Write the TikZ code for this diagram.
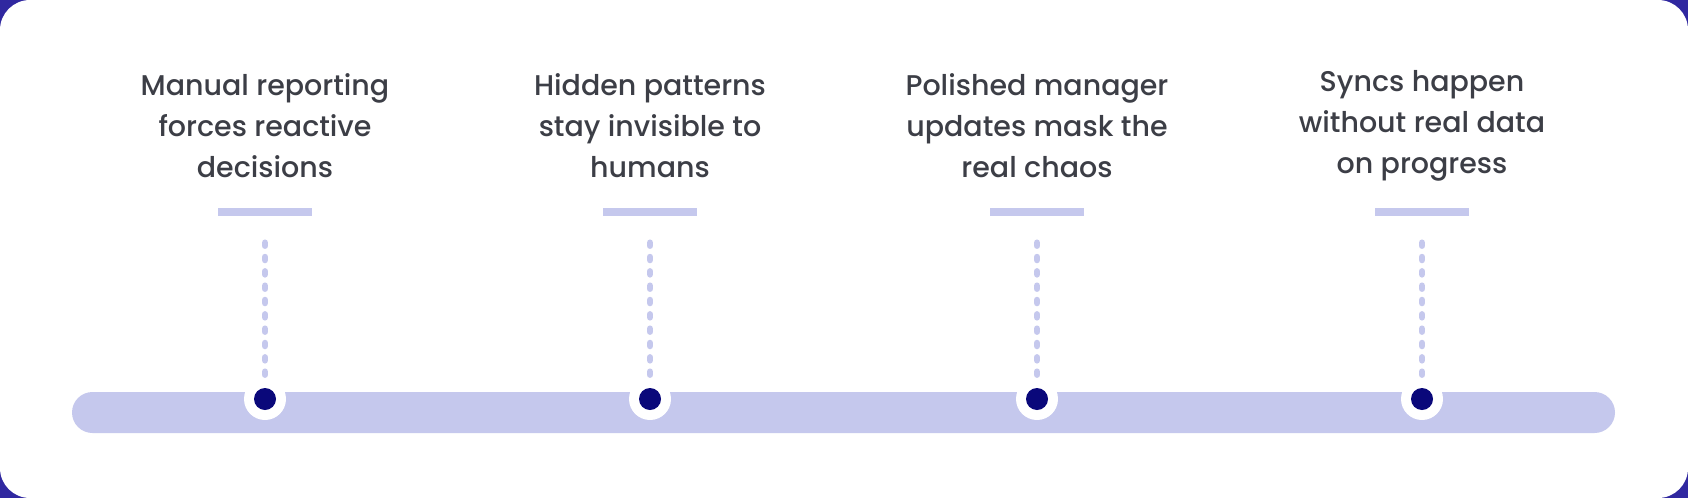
\documentclass[tikz,border=0pt]{standalone}
\usepackage{fontspec}
\setmainfont{Poppins}[UprightFont=* Medium]
\usepackage{xcolor}
\usetikzlibrary{positioning}

\definecolor{framepurple}{RGB}{48,40,160}
\definecolor{trackblue}{RGB}{197,200,237}
\definecolor{dotnavy}{RGB}{10,8,122}
\definecolor{textgray}{RGB}{60,62,70}

\begin{document}
\begin{tikzpicture}[x=1pt,y=-1pt,
    caption/.style={align=center,text=textgray,inner sep=0pt,
                    font=\fontsize{28.5}{41}\selectfont},
    tickbar/.style={fill=trackblue,inner sep=0pt,minimum width=94pt,minimum height=8pt},
    ring/.style={circle,fill=white,inner sep=0pt,minimum size=42pt},
    dot/.style={circle,fill=dotnavy,inner sep=0pt,minimum size=22pt},
    dotline/.style={draw=trackblue,line width=6.5pt,line cap=round,dash pattern=on 3pt off 11.33pt}]
  % card on the dark frame
  \fill[framepurple] (0,0) rectangle (1688,498);
  \fill[white,rounded corners=30pt] (0,0) rectangle (1688,498);
  % the track
  \fill[trackblue,rounded corners=20.5pt] (72,392) rectangle (1615,433);

  \foreach \x/\n/\txt in {265/1/{Manual reporting\\forces reactive\\decisions},
                          650/2/{Hidden patterns\\stay invisible to\\humans},
                          1037/3/{Polished manager\\updates mask the\\real chaos},
                          1422/4/{Syncs happen\\without real data\\on progress}}
  {
    \node[caption] (cap\n) at (\x,126) {\txt};
    \node[tickbar] (tick\n) at (\x,212) {};
    \node[ring] (ring\n) at (\x,399) {};
    \node[dot] (dot\n) at (ring\n) {};
    \draw[dotline] ([yshift=-26.5pt]tick\n.south) -- ([yshift=3pt]ring\n.north);
  }
\end{tikzpicture}
\end{document}
